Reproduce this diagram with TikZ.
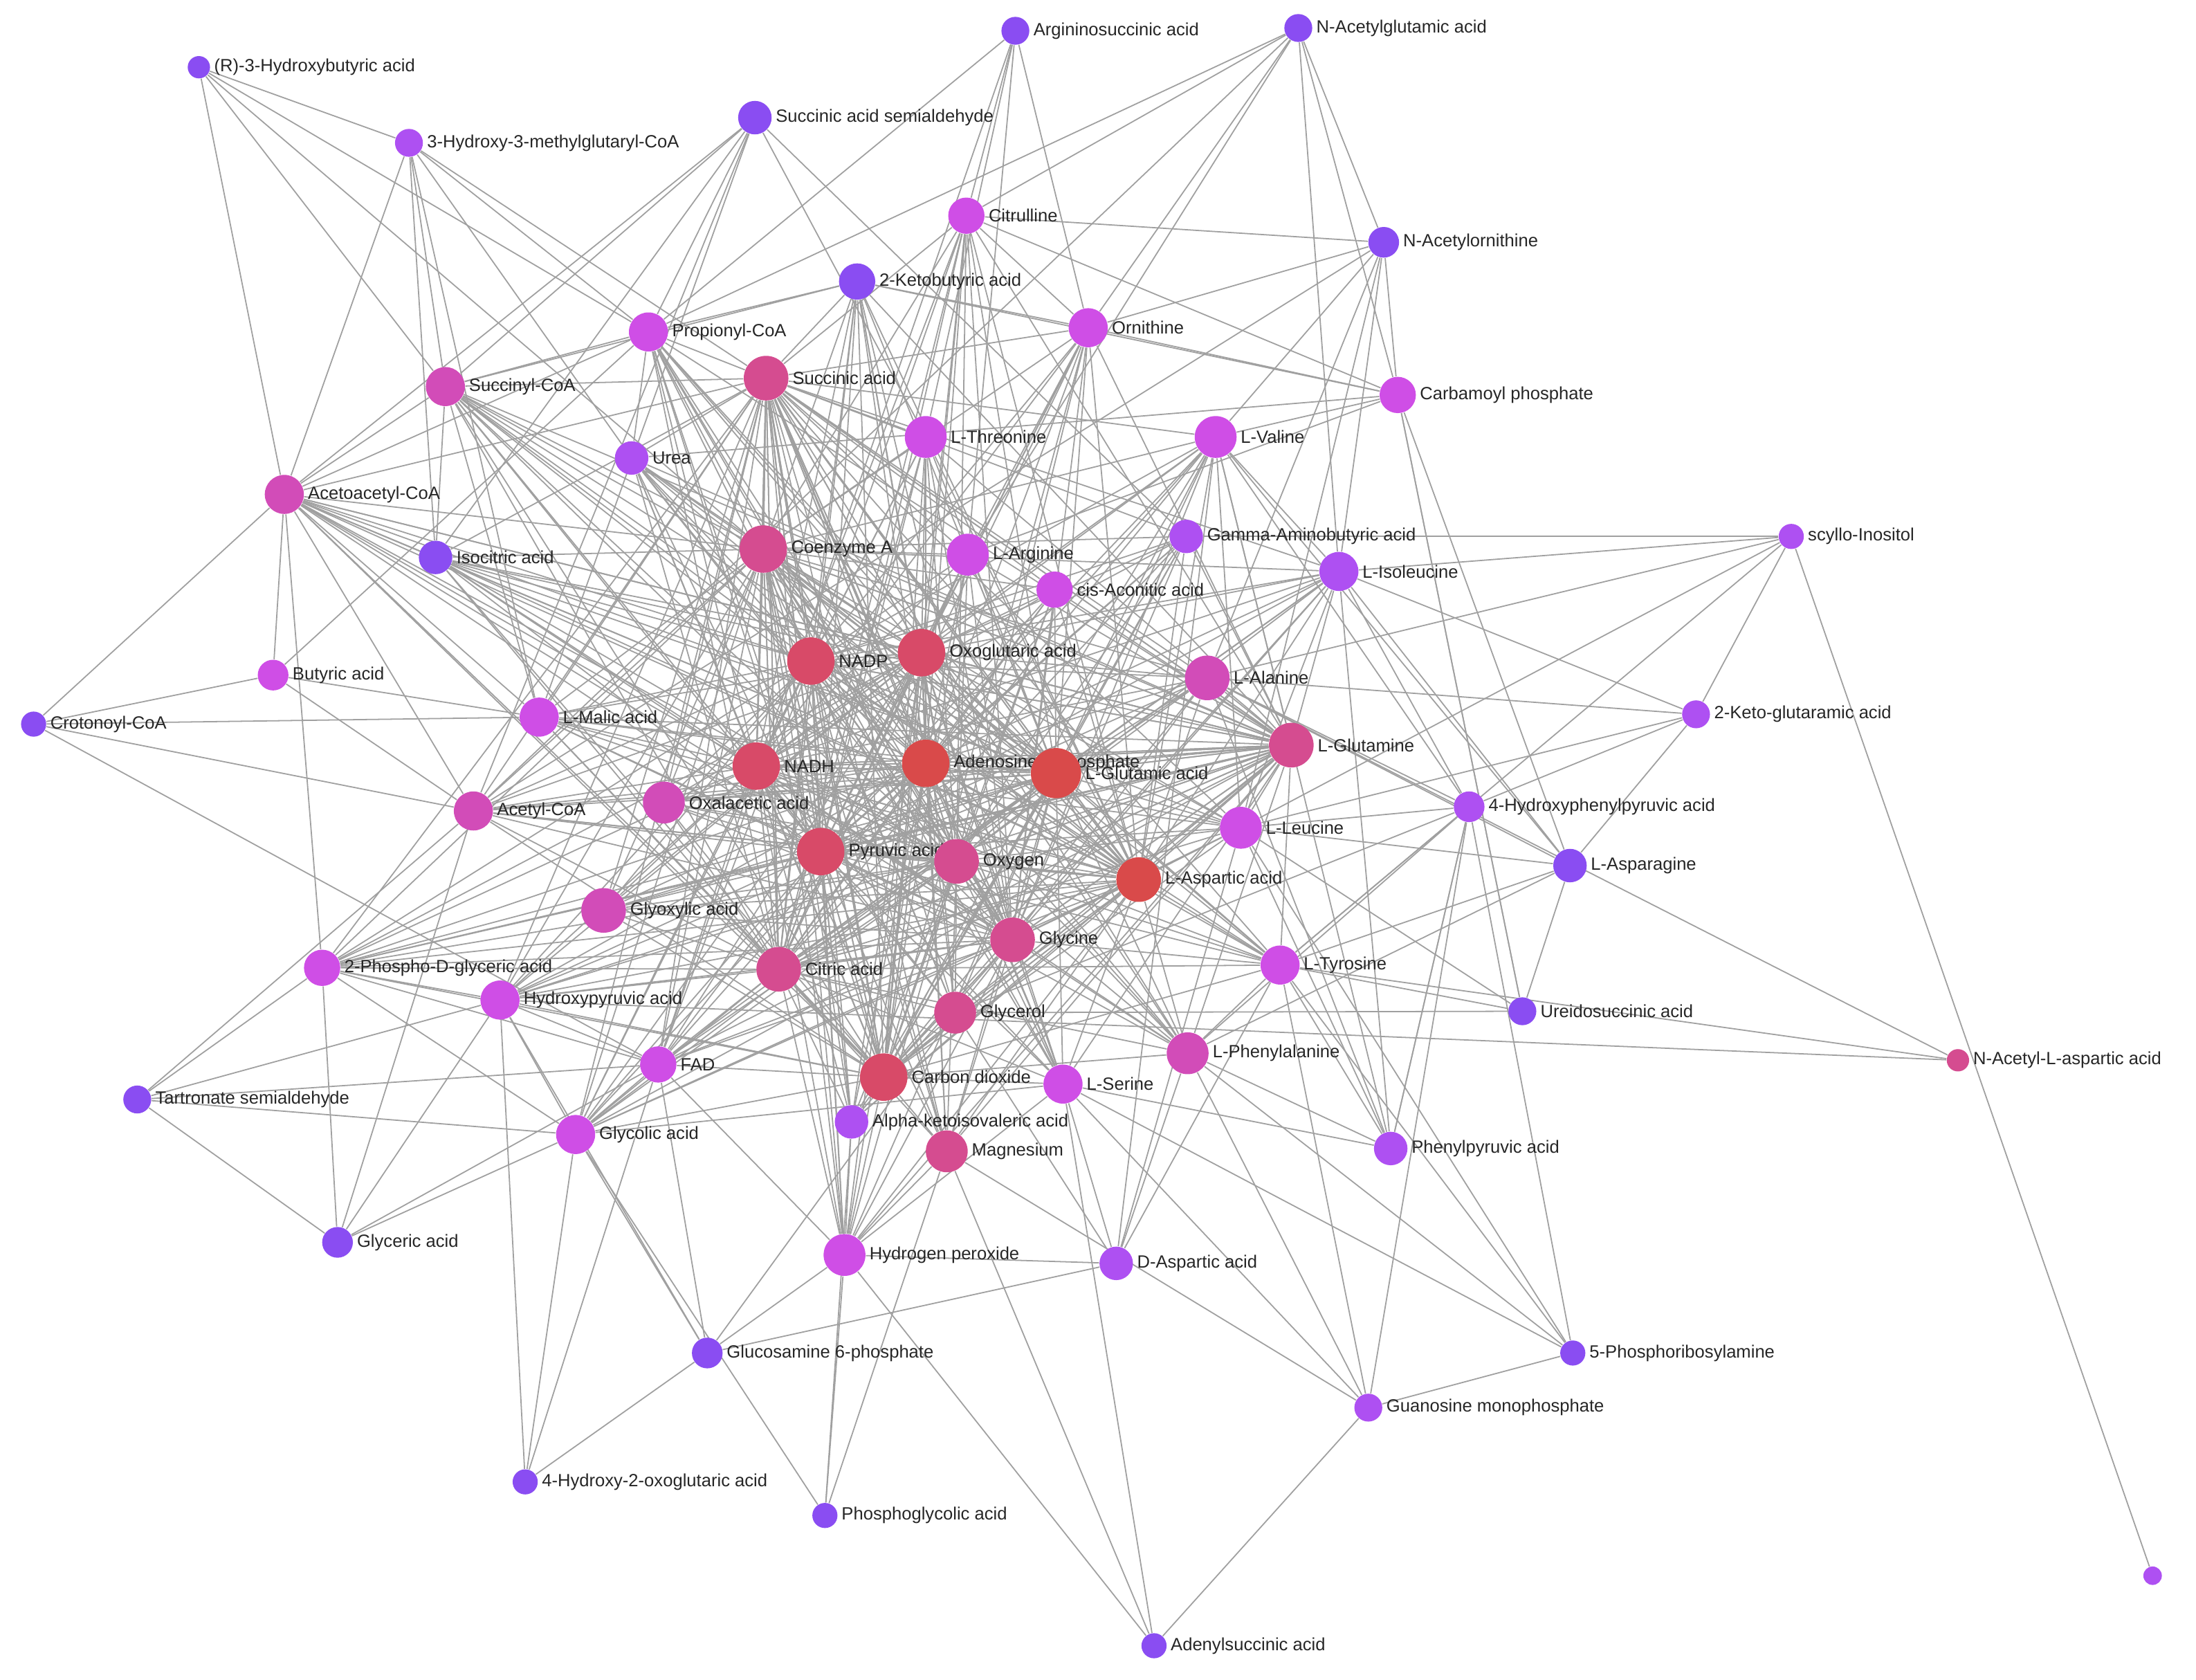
\documentclass[tikz,border=0pt]{standalone}
\usepackage{fontspec}
\setmainfont{Liberation Sans}
\usetikzlibrary{backgrounds}
\definecolor{cR}{HTML}{D94A4A}
\definecolor{cRP}{HTML}{D84A68}
\definecolor{cP}{HTML}{D54C90}
\definecolor{cPM}{HTML}{D24CB8}
\definecolor{cM}{HTML}{CF4EE6}
\definecolor{cV}{HTML}{AE50F2}
\definecolor{cU}{HTML}{8A4DF2}
\definecolor{edge}{HTML}{A0A0A0}
\tikzset{
 nd/.style={circle,fill=#1,draw=none,inner sep=0pt},
 lab/.style={font=\fontsize{7.2}{8}\selectfont,text=black!85,inner sep=0.5pt},
 ed/.style={draw=edge,line width=0.5pt},
}
\begin{document}
\begin{tikzpicture}[x=0.02cm,y=0.02cm]
\useasboundingbox (0,0) rectangle (1568,-1199);
\foreach \id/\x/\y/\d/\c/\t in {
HBA/142/48/8/cU/{(R)-3-Hydroxybutyric acid},
HMG/292/102/10/cV/{3-Hydroxy-3-methylglutaryl-CoA},
SSA/539/84/12/cU/{Succinic acid semialdehyde},
ARG/725/22/10/cU/{Argininosuccinic acid},
NAG/927/20/10/cU/{N-Acetylglutamic acid},
CIT/690/154/13/cM/{Citrulline},
NAO/988/173/11/cU/{N-Acetylornithine},
KB/612/201/13/cU/{2-Ketobutyric acid},
PROP/463/237/14/cM/{Propionyl-CoA},
ORN/777/234/14/cM/{Ornithine},
SUCCOA/318/276/14/cPM/{Succinyl-CoA},
SUCC/547/270/16/cP/{Succinic acid},
CP/998/282/13/cM/{Carbamoyl phosphate},
THR/661/312/15/cM/{L-Threonine},
VAL/868/312/15/cM/{L-Valine},
UREA/451/327/12/cV/{Urea},
ACAC/203/353/14/cPM/{Acetoacetyl-CoA},
GABA/847/383/12/cV/{Gamma-Aminobutyric acid},
SCYL/1279/383/9/cV/{scyllo-Inositol},
COA/545/392/17/cP/{Coenzyme A},
LARG/691/396/15/cM/{L-Arginine},
ISO/311/398/12/cU/{Isocitric acid},
ILE/956/408/14/cV/{L-Isoleucine},
CIS/753/421/13/cM/{cis-Aconitic acid},
NADP/579/472/17/cRP/{NADP},
OXO/658/466/17/cRP/{Oxoglutaric acid},
ALA/862/484/16/cPM/{L-Alanine},
BUT/195/482/11/cM/{Butyric acid},
KGM/1211/510/10/cV/{2-Keto-glutaramic acid},
CRO/24/517/9/cU/{Crotonoyl-CoA},
MAL/385/512/14/cM/{L-Malic acid},
GLN/922/532/16/cP/{L-Glutamine},
NADH/540/547/17/cRP/{NADH},
ATP/661/545/17/cR/{Adenosine triphosphate},
GLU/754/552/18/cR/{L-Glutamic acid},
HPP/1049/576/11/cV/{4-Hydroxyphenylpyruvic acid},
ACCOA/338/579/14/cPM/{Acetyl-CoA},
OXA/474/573/15/cPM/{Oxalacetic acid},
LEU/886/591/15/cM/{L-Leucine},
PYR/586/608/17/cRP/{Pyruvic acid},
OXY/683/615/16/cP/{Oxygen},
ASN/1121/618/12/cU/{L-Asparagine},
ASP/813/628/16/cR/{L-Aspartic acid},
GLYX/431/650/16/cPM/{Glyoxylic acid},
GLY/723/671/16/cP/{Glycine},
P2G/230/691/13/cM/{2-Phospho-D-glyceric acid},
CITR/556/692/16/cP/{Citric acid},
TYR/914/689/14/cM/{L-Tyrosine},
HYP/357/714/14/cM/{Hydroxypyruvic acid},
URE/1087/722/10/cU/{Ureidosuccinic acid},
GLYC/682/723/15/cP/{Glycerol},
NAA/1398/757/8/cP/{N-Acetyl-L-aspartic acid},
PHE/848/752/15/cPM/{L-Phenylalanine},
FAD/470/760/13/cM/{FAD},
CO2/631/769/17/cRP/{Carbon dioxide},
SER/759/774/14/cM/{L-Serine},
TSA/98/785/10/cU/{Tartronate semialdehyde},
AKIV/608/801/12/cV/{Alpha-ketoisovaleric acid},
GLYCO/411/810/14/cM/{Glycolic acid},
PPA/993/820/12/cV/{Phenylpyruvic acid},
MG/676/822/15/cP/{Magnesium},
GLYCE/241/887/11/cU/{Glyceric acid},
H2O2/603/896/15/cM/{Hydrogen peroxide},
DASP/797/902/12/cV/{D-Aspartic acid},
GLCN/505/966/11/cU/{Glucosamine 6-phosphate},
PRA/1123/966/9/cU/{5-Phosphoribosylamine},
GMP/977/1005/10/cV/{Guanosine monophosphate},
HOG/375/1058/9/cU/{4-Hydroxy-2-oxoglutaric acid},
PGA/589/1082/9/cU/{Phosphoglycolic acid},
ADS/824/1175/9/cU/{Adenylsuccinic acid}}
{\node[nd=\c,minimum size=\d*1.134pt,label={[lab,label distance=0.8pt]right:\t}] (\id) at (\x,-\y) {};}
\node[nd=cV,minimum size=7.5pt] (UNK) at (1537,-1125) {};
\begin{pgfonlayer}{background}
\foreach \h in {ATP,GLU,NADP,NADH,OXO,ASP,PYR,OXY,CO2,CITR,COA,GLY,GLN,SUCC}
 \foreach \n in {ACAC,SUCCOA,PROP,KB,CIT,ORN,SUCC,THR,VAL,UREA,GABA,COA,LARG,ISO,ILE,CIS,NADP,OXO,ALA,MAL,GLN,NADH,ATP,GLU,ACCOA,OXA,LEU,PYR,OXY,ASP,GLYX,GLY,P2G,CITR,TYR,HYP,GLYC,PHE,FAD,CO2,SER,AKIV,GLYCO,MG,H2O2}
  {\draw[ed] (\h) -- (\n);}
\foreach \a/\b in {HBA/HMG,HBA/SUCCOA,HBA/ACAC,HBA/PROP,HBA/COA,
HMG/SUCCOA,HMG/PROP,HMG/UREA,HMG/ISO,HMG/ACAC,HMG/SUCC,HMG/MAL,
SSA/SUCCOA,SSA/ACAC,SSA/PROP,SSA/GABA,SSA/THR,SSA/MAL,SSA/ISO,SSA/ACCOA,
ARG/CIT,ARG/ORN,ARG/LARG,ARG/PROP,ARG/FAD,ARG/THR,
NAG/NAO,NAG/ORN,NAG/CIT,NAG/CP,NAG/ACCOA,NAG/ILE,NAG/PROP,NAG/LARG,
NAO/ORN,NAO/CIT,NAO/ILE,NAO/ALA,NAO/LEU,NAO/ACCOA,NAO/VAL,NAO/CP,
CP/ORN,CP/CIT,CP/URE,CP/KB,CP/ASN,CP/LARG,CP/VAL,CP/UREA,
SCYL/ILE,SCYL/ALA,SCYL/GABA,SCYL/KGM,SCYL/UNK,SCYL/TYR,SCYL/LEU,
NAA/TYR,NAA/ALA,NAA/HYP,
KGM/ALA,KGM/HPP,KGM/ASN,KGM/ILE,KGM/LEU,
HPP/TYR,HPP/PHE,HPP/LEU,HPP/VAL,HPP/PPA,HPP/ALA,HPP/ILE,HPP/GLYC,
ASN/ALA,ASN/LEU,ASN/VAL,ASN/URE,ASN/TYR,ASN/PHE,ASN/ILE,
URE/CP,URE/TYR,URE/GLYC,URE/LEU,
PPA/PHE,PPA/TYR,PPA/LEU,PPA/HPP,PPA/SER,PPA/ALA,PPA/VAL,PPA/ILE,
PRA/GMP,PRA/PHE,PRA/TYR,PRA/HPP,PRA/LEU,PRA/SER,
GMP/ADS,GMP/TYR,GMP/HPP,GMP/SER,GMP/MG,GMP/PHE,
ADS/MG,ADS/SER,ADS/H2O2,
DASP/H2O2,DASP/SER,DASP/PHE,DASP/GLYC,DASP/TYR,DASP/LEU,DASP/VAL,
PGA/H2O2,PGA/GLYCO,PGA/MG,PGA/AKIV,
HOG/GLYCO,HOG/HYP,HOG/GLCN,HOG/FAD,
GLCN/H2O2,GLCN/GLYC,GLCN/DASP,GLCN/GLYCO,GLCN/FAD,GLCN/HYP,
GLYCE/HYP,GLYCE/P2G,GLYCE/GLYCO,GLYCE/FAD,GLYCE/TSA,GLYCE/ACCOA,
TSA/P2G,TSA/HYP,TSA/FAD,TSA/GLYCO,TSA/ACCOA,
CRO/BUT,CRO/ACAC,CRO/ACCOA,CRO/MAL,CRO/FAD,
BUT/ACAC,BUT/ACCOA,BUT/MAL,BUT/PROP,
ACAC/SUCCOA,ACAC/PROP,ACAC/MAL,ACAC/ACCOA,ACAC/ISO,ACAC/P2G,
SUCCOA/PROP,SUCCOA/ISO,SUCCOA/MAL,SUCCOA/KB,PROP/KB,PROP/UREA,
ORN/CIT,ORN/LARG,ORN/KB,VAL/ILE,VAL/LEU,ILE/LEU,TYR/PHE,SER/GLYCO,SER/H2O2,
P2G/HYP,P2G/GLYCO,P2G/FAD,HYP/GLYCO,HYP/FAD,FAD/GLYCO,FAD/H2O2,MG/H2O2,AKIV/H2O2}
 {\draw[ed] (\a) -- (\b);}
\end{pgfonlayer}
\end{tikzpicture}
\end{document}
